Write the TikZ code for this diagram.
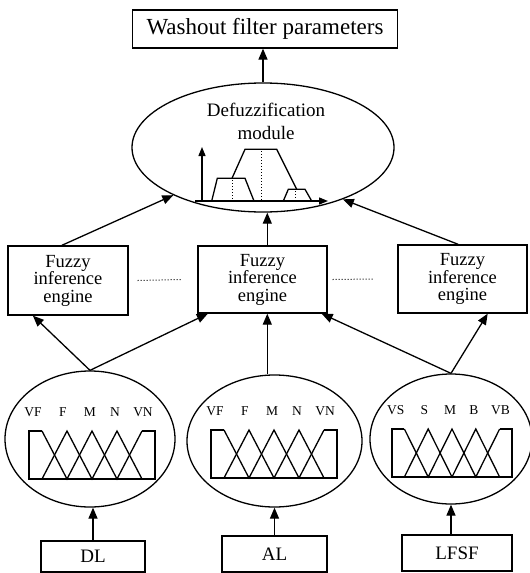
\documentclass[tikz,border=0pt]{standalone}
\usepackage{fontspec}
\setmainfont{Liberation Serif}
\usetikzlibrary{arrows.meta,shapes.geometric}

\begin{document}
\begin{tikzpicture}[x=1pt, y=-1pt, >={Triangle[length=11pt,width=9pt]}, line width=1.3pt,
    box/.style={draw, rectangle, inner sep=0pt, align=center},
    fie/.style={box, font=\fontsize{18.5}{17.5}\selectfont},
    oval/.style={draw, ellipse, inner sep=0pt},
    mflabel/.style={font=\fontsize{13.5}{14}\selectfont, inner sep=0pt}]
    \useasboundingbox (0,0) rectangle (530,573);

    % output side
    \node[box, minimum width=265pt, minimum height=38pt, font=\fontsize{23}{26}\selectfont] (wash) at (265,29) {Washout filter parameters};
    \node[oval, minimum width=262pt, minimum height=129pt] (defuzz) at (263,147.5) {};
    \node[align=center, font=\fontsize{19}{23}\selectfont] (deftext) at (266,121) {Defuzzification\\module};

    % small sketch of the aggregated output
    \draw[->, >={Triangle[length=9pt,width=7pt]}] (202,201) -- (202,147);
    \draw[->, >={Triangle[length=9pt,width=7pt]}] (195,201) -- (328,201);
    \draw (211.7,201) -- (217.3,178.3) -- (245,178.3) -- (254,201);
    \draw (232,178.3) -- (245,149.3) -- (276.7,149.3) -- (296.7,189.3);
    \draw (283.3,201) -- (288.3,189.3) -- (305,189.3) -- (311.7,201);
    \draw[dotted, line width=1pt] (261.7,151) -- (261.7,200);
    \draw[dotted, line width=1pt] (232.7,180) -- (232.7,200);
    \draw[dotted, line width=1pt] (295.7,191) -- (295.7,200);

    % inference engines
    \node[fie, minimum width=120pt, minimum height=69pt] (lbox) at (68,280.5) {Fuzzy\\inference\\engine};
    \node[fie, minimum width=129pt, minimum height=67pt] (mbox) at (262.5,279.5) {Fuzzy\\inference\\engine};
    \node[fie, minimum width=129pt, minimum height=68pt] (rbox) at (462.5,279) {Fuzzy\\inference\\engine};
    \draw[dotted, line width=1pt] ([xshift=9pt]lbox.east) -- ([xshift=-16pt]mbox.west);
    \draw[dotted, line width=1pt] ([xshift=5pt]mbox.east) -- ([xshift=-23pt]rbox.west);

    % fuzzification
    \node[oval, minimum width=170pt, minimum height=136pt] (lell) at (90,439) {};
    \node[oval, minimum width=175pt, minimum height=132pt] (mell) at (274.5,441) {};
    \node[oval, minimum width=162pt, minimum height=130pt] (rell) at (451,439) {};
    \foreach \px/\py/\w/\la/\lb/\lc/\ld/\le [count=\k] in {29/431/126/VF/F/M/N/VN, 211/430/126/VF/F/M/N/VN, 392/429/120/VS/S/M/B/VB}{
        \begin{scope}[shift={(\px,\py)}, xscale=\w/126]
            \draw (13,0) -- (0,0) -- (0,48) -- (126,48) -- (126,0) -- (113,0);
            \draw (13,0) -- (38,48) -- (63,0) -- (88,48) -- (113,0);
            \draw (13,48) -- (38,0) -- (63,48) -- (88,0) -- (113,48);
            \foreach \lx/\lt [count=\j] in {4/\la, 34/\lb, 61/\lc, 86/\ld, 114/\le}
                \node[mflabel] (mf\k-\j) at (\lx,-19) {\lt};
        \end{scope}
    }

    % inputs
    \node[box, minimum width=104pt, minimum height=31pt, font=\fontsize{19}{22}\selectfont] (dl) at (93,556.5) {DL};
    \node[box, minimum width=105pt, minimum height=36pt, font=\fontsize{19}{22}\selectfont] (al) at (274.5,554) {AL};
    \node[box, minimum width=110pt, minimum height=36pt, font=\fontsize{19}{22}\selectfont] (lfsf) at (457,553) {LFSF};

    \draw[->] (defuzz.north) -- (defuzz.north |- wash.south);
    \draw[->] (lbox.100) -- (defuzz.208);
    \draw[->] (mbox.82) -- (mbox.82 |- defuzz.south);
    \draw[->] (rbox.97) -- (defuzz.327);
    \draw[->] (lell.north) -- (lbox.225);
    \draw[->] (lell.north) -- (mbox.212);
    \draw[->] (mbox.278 |- mell.north) -- (mbox.278);
    \draw[->] (rell.north) -- (mbox.330);
    \draw[->] (rell.north) -- (rbox.306);
    \draw[->] (dl.north) -- (dl.north |- lell.south);
    \draw[->] (al.north) -- (mell.south);
    \draw[->] (lfsf.north -| rell.south) -- (rell.south);
\end{tikzpicture}
\end{document}
